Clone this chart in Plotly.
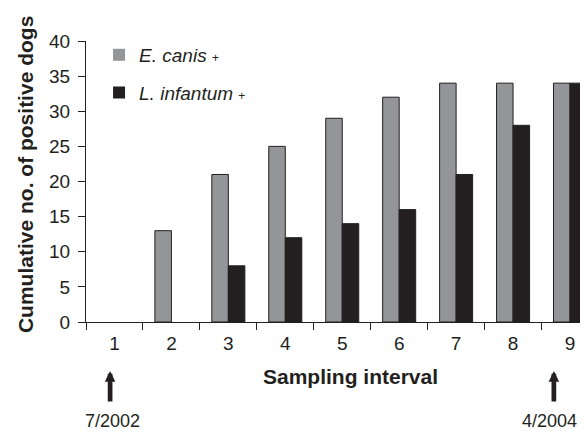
import plotly.graph_objects as go

intervals = ["1", "2", "3", "4", "5", "6", "7", "8", "9"]
e_canis = [0, 13, 21, 25, 29, 32, 34, 34, 34]
l_infantum = [0, 0, 8, 12, 14, 16, 21, 28, 34]
y_ticks = [0, 5, 10, 15, 20, 25, 30, 35, 40]

FONT = "Liberation Sans, Arial, sans-serif"
DARK = "#231f20"
GRAY = "#939598"


def outline(values):
    return [0 if v == 0 else 1 for v in values]


fig = go.Figure()
fig.add_trace(go.Bar(
    x=intervals, y=e_canis,
    name="<i>E. canis</i> <span style='font-size:12px'>+</span>",
    marker=dict(color=GRAY, line=dict(color=DARK, width=outline(e_canis))),
    legendgroup="a",
))
fig.add_trace(go.Bar(
    x=intervals, y=l_infantum,
    name="<i>L. infantum</i> <span style='font-size:12px'>+</span>",
    marker=dict(color=DARK, line=dict(color=DARK, width=outline(l_infantum))),
    legendgroup="b",
))

fig.update_layout(
    width=588, height=433,
    margin=dict(l=78, r=8, t=33, b=119, pad=0, autoexpand=False),
    paper_bgcolor="white", plot_bgcolor="white",
    font=dict(family=FONT, color=DARK, size=18),
    barmode="group", bargap=0.42, bargroupgap=0,
    showlegend=True,
    legend=dict(
        x=0.026, y=1.018, xanchor="left", yanchor="top",
        bgcolor="rgba(0,0,0,0)", borderwidth=0,
        font=dict(size=19, family=FONT, color=DARK),
        traceorder="grouped", tracegroupgap=10,
    ),
    xaxis=dict(
        type="category", range=[-0.5, 8.316], automargin=False,
        showline=True, linecolor=DARK, linewidth=1,
        ticks="outside", tickson="boundaries", ticklen=7, tickwidth=1, tickcolor=DARK,
        showgrid=False, zeroline=False,
        tickfont=dict(size=19, family=FONT, color=DARK),
        ticklabelstandoff=4,
    ),
    yaxis=dict(
        range=[0, 40], tickvals=y_ticks, automargin=False,
        showline=True, linecolor=DARK, linewidth=1,
        ticks="outside", ticklen=7, tickwidth=1, tickcolor=DARK,
        showgrid=False, zeroline=False,
        tickfont=dict(size=19, family=FONT, color=DARK),
        ticklabelstandoff=4,
    ),
)

# axis titles
fig.add_annotation(
    text="<b>Cumulative no. of positive dogs</b>", textangle=-90,
    xref="paper", yref="paper", x=-0.1215, y=0.523,
    xanchor="center", yanchor="middle",
    showarrow=False, font=dict(size=21, family=FONT, color=DARK),
)
fig.add_annotation(
    text="<b>Sampling interval</b>",
    xref="paper", yref="paper", x=0.526, y=-0.193,
    xanchor="center", yanchor="middle",
    showarrow=False, font=dict(size=21, family=FONT, color=DARK),
)

# date arrows and labels
for xp, lab, xl in [(0.048, "7/2002", 0.053), (0.932, "4/2004", 0.924)]:
    fig.add_annotation(
        text="", xref="paper", yref="paper", x=xp, y=-0.1746,
        ax=0, ay=32, showarrow=True, arrowhead=2, arrowsize=0.45,
        arrowwidth=4.7, arrowcolor=DARK,
    )
    fig.add_annotation(
        text=lab, xref="paper", yref="paper", x=xl, y=-0.354,
        xanchor="center", yanchor="middle",
        showarrow=False, font=dict(size=18, family=FONT, color=DARK),
    )

fig.write_html("out.html")
